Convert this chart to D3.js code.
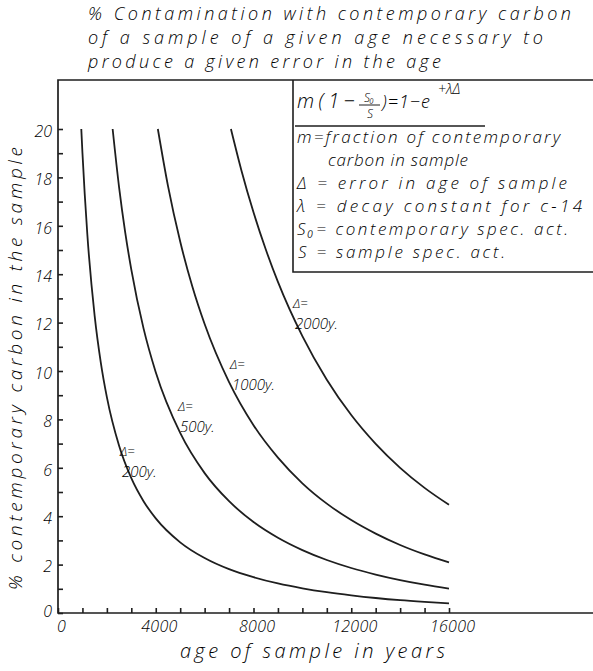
<!DOCTYPE html>
<html>
<head>
<meta charset="utf-8">
<script src="https://cdn.jsdelivr.net/npm/d3@7"></script>
<style>
  body { margin: 0; background: #fff; }
  svg { display: block; }
  text { font-family: "Open Sans", "DejaVu Sans", sans-serif; font-style: italic; font-weight: 300; fill: #000; }
  .axis line, .axis path { stroke: #1e1e1e; stroke-width: 1.6; }
</style>
</head>
<body>
<svg width="593" height="671"></svg>
<script>
// ages (years) and % contemporary carbon
var ages200 = [953, 1000, 1200, 1500, 1750, 2000, 2500, 3000, 3500, 4000, 5000, 6000, 7000, 8000, 9000, 10000, 11000, 12000, 13000, 14000, 15000, 16000];
var pct200  = [20, 19.02, 15.65, 12.28, 10.36, 8.92, 6.91, 5.57, 4.62, 3.91, 2.92, 2.27, 1.81, 1.48, 1.22, 1.02, 0.86, 0.73, 0.62, 0.53, 0.46, 0.40];

var ages500 = [2236, 2500, 2750, 3000, 3500, 4000, 5000, 6000, 7000, 8000, 9000, 10000, 11000, 12000, 13000, 14000, 15000, 16000];
var pct500  = [20, 17.59, 15.73, 14.19, 11.76, 9.95, 7.44, 5.78, 4.62, 3.76, 3.11, 2.60, 2.19, 1.86, 1.59, 1.36, 1.17, 1.01];

var ages1000 = [4086, 4500, 5000, 5500, 6000, 7000, 8000, 9000, 10000, 11000, 12000, 13000, 14000, 15000, 16000];
var pct1000  = [20, 17.65, 15.35, 13.48, 11.94, 9.54, 7.76, 6.42, 5.36, 4.52, 3.84, 3.28, 2.81, 2.42, 2.09];

var ages2000 = [7077, 7500, 8000, 8500, 9000, 10000, 11000, 12000, 13000, 14000, 15000, 16000];
var pct2000  = [20, 18.31, 16.56, 15.03, 13.68, 11.44, 9.64, 8.18, 6.99, 6.00, 5.17, 4.47];

var curveNames = ["200y.", "500y.", "1000y.", "2000y."];
// where each "Δ=" label sits, in data units (age, %)
var labelAge = [2537, 4910, 7038, 9616];
var labelPct = [6.45, 8.31, 10.04, 12.56];

var xTicks = d3.range(0, 16001, 1000);
var xLabels = [0, 4000, 8000, 12000, 16000];
var yTicks = d3.range(0, 21, 1);
var yLabels = [0, 2, 4, 6, 8, 10, 12, 14, 16, 18, 20];

var titleLines = ["% Contamination  with contemporary carbon",
                  "of a sample of a given  age  necessary  to",
                  "produce  a given  error  in the  age"];
var legendLines = ["m=fraction of contemporary", "carbon in sample", "Δ = error in age of sample",
                   "λ = decay constant for c-14", "S₀= contemporary spec. act.", "S = sample spec. act."];

var svg = d3.select("svg");
var W = 593;

var x = d3.scaleLinear().domain([0, 16000]).range([58, 449]);
var y = d3.scaleLinear().domain([0, 20]).range([613, 129]);

// frame: top line, y axis line, x axis line running off to the right
svg.append("path")
    .attr("d", "M" + W + "," + 80 + "H" + x(0) + "V" + y(0) + "H" + W)
    .attr("fill", "none").attr("stroke", "#1e1e1e").attr("stroke-width", 1.7);

// legend box
svg.append("path")
    .attr("d", "M293,80V272H" + W)
    .attr("fill", "none").attr("stroke", "#1e1e1e").attr("stroke-width", 1.6);

// axes
var xAxis = d3.axisBottom(x).tickValues(xTicks).tickSize(-5).tickPadding(8)
    .tickFormat(function(d) { return xLabels.indexOf(d) >= 0 ? d : ""; });
var gx = svg.append("g").attr("class", "axis").attr("transform", "translate(0," + y(0) + ")").call(xAxis);
gx.select(".domain").remove();
gx.selectAll("text").style("font-size", "16px").attr("dx", "3")
    .attr("textLength", function(d) { return String(d).length * 9; }).attr("lengthAdjust", "spacing");

var yAxis = d3.axisLeft(y).tickValues(yTicks).tickSize(-5).tickPadding(6)
    .tickFormat(function(d) { return yLabels.indexOf(d) >= 0 ? d : ""; });
var gy = svg.append("g").attr("class", "axis").attr("transform", "translate(" + x(0) + ",0)").call(yAxis);
gy.select(".domain").remove();
gy.selectAll("text").style("font-size", "16px").attr("dy", "0.45em");
gy.selectAll(".tick").filter(function(d) { return d === 0; }).select("text").attr("dy", "0.2em");

// curves
var series = [[ages200, pct200], [ages500, pct500], [ages1000, pct1000], [ages2000, pct2000]];
var line = d3.line()
    .x(function(d) { return x(d[0]); })
    .y(function(d) { return y(d[1]); })
    .curve(d3.curveMonotoneX);

svg.append("g").selectAll("path")
    .data(series)
    .enter().append("path")
    .attr("d", function(s) { return line(d3.zip(s[0], s[1])); })
    .attr("fill", "none")
    .attr("stroke", "#1e1e1e")
    .attr("stroke-width", 1.8);

// curve labels
var lab = svg.append("g").selectAll("g")
    .data(curveNames)
    .enter().append("g")
    .attr("transform", function(d, i) { return "translate(" + x(labelAge[i]) + "," + y(labelPct[i]) + ")"; });
lab.append("text").attr("x", 0).attr("y", -1).style("font-size", "13px").text("Δ=");
lab.append("text").attr("x", 2).attr("y", 20).style("font-size", "15px").text(function(d) { return d; });

// title
var titleLen = [483, 455, 353];
svg.append("g").selectAll("text")
    .data(titleLines)
    .enter().append("text")
    .attr("x", 88)
    .attr("y", function(d, i) { return 20 + i * 24; })
    .attr("textLength", function(d, i) { return titleLen[i]; })
    .attr("lengthAdjust", "spacing")
    .style("font-size", "18px")
    .text(function(d) { return d; });

// axis titles
svg.append("text")
    .attr("x", 180).attr("y", 658)
    .attr("textLength", 265).attr("lengthAdjust", "spacing")
    .style("font-size", "20px")
    .text("age of sample in years");

svg.append("text")
    .attr("transform", "translate(22,590) rotate(-90)")
    .attr("textLength", 443).attr("lengthAdjust", "spacing")
    .style("font-size", "19px")
    .text("% contemporary carbon in the sample");

// formula
var f = svg.append("g");
f.append("text").attr("x", 297).attr("y", 108).style("font-size", "20px")
    .attr("textLength", 58).attr("lengthAdjust", "spacing").text("m(1−");
f.append("text").attr("x", 369).attr("y", 102).attr("text-anchor", "middle").style("font-size", "12px").text("S₀");
f.append("line").attr("x1", 359).attr("x2", 380).attr("y1", 105).attr("y2", 105)
    .attr("stroke", "#1e1e1e").attr("stroke-width", 1);
f.append("text").attr("x", 370).attr("y", 118).attr("text-anchor", "middle").style("font-size", "12px").text("S");
f.append("text").attr("x", 382).attr("y", 108).style("font-size", "18px")
    .attr("textLength", 48).attr("lengthAdjust", "spacing").text(")=1−e");
f.append("text").attr("x", 438).attr("y", 94).style("font-size", "14px").text("+λΔ");
f.append("line").attr("x1", 295).attr("x2", 485).attr("y1", 126).attr("y2", 126)
    .attr("stroke", "#1e1e1e").attr("stroke-width", 1.3);

// legend text
var legX = [297, 328, 297, 297, 297, 298];
var legLen = [263, 140, 270, 285, 271, 207];
svg.append("g").selectAll("text")
    .data(legendLines)
    .enter().append("text")
    .attr("x", function(d, i) { return legX[i]; })
    .attr("y", function(d, i) { return 143 + i * 23; })
    .attr("textLength", function(d, i) { return legLen[i]; })
    .attr("lengthAdjust", "spacing")
    .style("font-size", "17px")
    .text(function(d) { return d; });
</script>
</body>
</html>
